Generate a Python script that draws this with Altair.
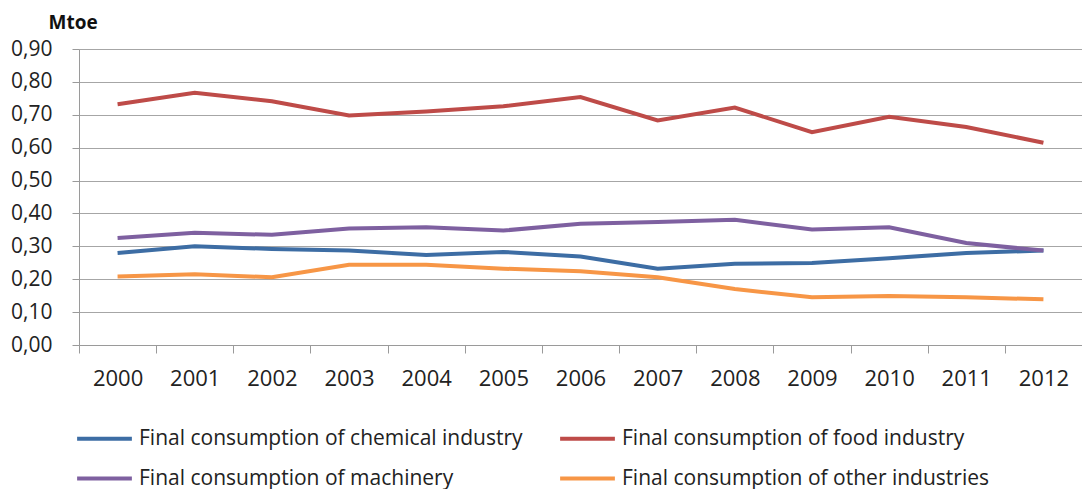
import altair as alt
import pandas as pd

years = [str(y) for y in range(2000, 2013)]
chemical = [0.280, 0.300, 0.292, 0.287, 0.274, 0.283, 0.269, 0.232, 0.247, 0.249, 0.264, 0.280, 0.287]
food = [0.732, 0.767, 0.741, 0.698, 0.710, 0.726, 0.754, 0.683, 0.722, 0.647, 0.694, 0.663, 0.615]
machinery = [0.325, 0.341, 0.335, 0.354, 0.358, 0.348, 0.369, 0.374, 0.381, 0.351, 0.358, 0.310, 0.287]
other = [0.208, 0.215, 0.206, 0.244, 0.244, 0.232, 0.224, 0.206, 0.170, 0.145, 0.149, 0.145, 0.139]

series_names = [
    "Final consumption of chemical industry",
    "Final consumption of food industry",
    "Final consumption of machinery",
    "Final consumption of other industries",
]
series_values = [chemical, food, machinery, other]
colors = ["#3D6DA4", "#BE4B48", "#7E60A0", "#F79646"]

rows = []
for name, vals in zip(series_names, series_values):
    for y, v in zip(years, vals):
        rows.append({"year": y, "series": name, "value": v})
df = pd.DataFrame(rows)

FONT = "Open Sans"

chart = alt.Chart(df).mark_line(strokeWidth=4).encode(
    x=alt.X(
        "year:O",
        scale=alt.Scale(type="band", paddingInner=0, paddingOuter=0),
        bandPosition=0.5,
        axis=alt.Axis(
            title=None,
            tickBand="extent",
            labelAngle=0,
            labelFont=FONT,
            labelFontSize=22,
            labelColor="#222222",
            labelPadding=15,
            domainColor="#9a9a9a",
            tickColor="#9a9a9a",
            tickSize=8,
            grid=False,
        ),
    ),
    y=alt.Y(
        "value:Q",
        scale=alt.Scale(domain=[0, 0.9], nice=False),
        axis=alt.Axis(
            values=[0, 0.1, 0.2, 0.3, 0.4, 0.5, 0.6, 0.7, 0.8, 0.9],
            labelExpr="replace(format(datum.value, '.2f'), '.', ',')",
            labelFont=FONT,
            labelFontSize=21,
            labelColor="#222222",
            labelPadding=20,
            domainColor="#9a9a9a",
            tickColor="#9a9a9a",
            tickSize=7,
            gridColor="#a6a6a6",
            gridWidth=1,
            title="Mtoe",
            titleFont=FONT,
            titleFontSize=19,
            titleFontWeight="bold",
            titleColor="#111111",
            titleAngle=0,
            titleAlign="left",
            titleBaseline="alphabetic",
            titleX=-31,
            titleY=-21,
        ),
    ),
    color=alt.Color(
        "series:N",
        scale=alt.Scale(domain=series_names, range=colors),
        legend=alt.Legend(
            title=None,
            orient="none",
            direction="horizontal",
            legendX=-4,
            legendY=360,
            columns=2,
            columnPadding=29,
            rowPadding=-21,
            symbolType="stroke",
            symbolSize=3000,
            symbolStrokeWidth=4,
            labelFont=FONT,
            labelFontSize=21,
            labelColor="#222222",
            labelOffset=5,
            labelLimit=600,
        ),
    ),
).properties(
    width=1003,
    height=296,
    autosize=alt.AutoSizeParams(type="none"),
    padding={"left": 71, "top": 41, "right": 0, "bottom": 144},
).configure_view(stroke=None).configure(background="white")

chart.save("out.html", embed_options={"renderer": "svg", "actions": False})
